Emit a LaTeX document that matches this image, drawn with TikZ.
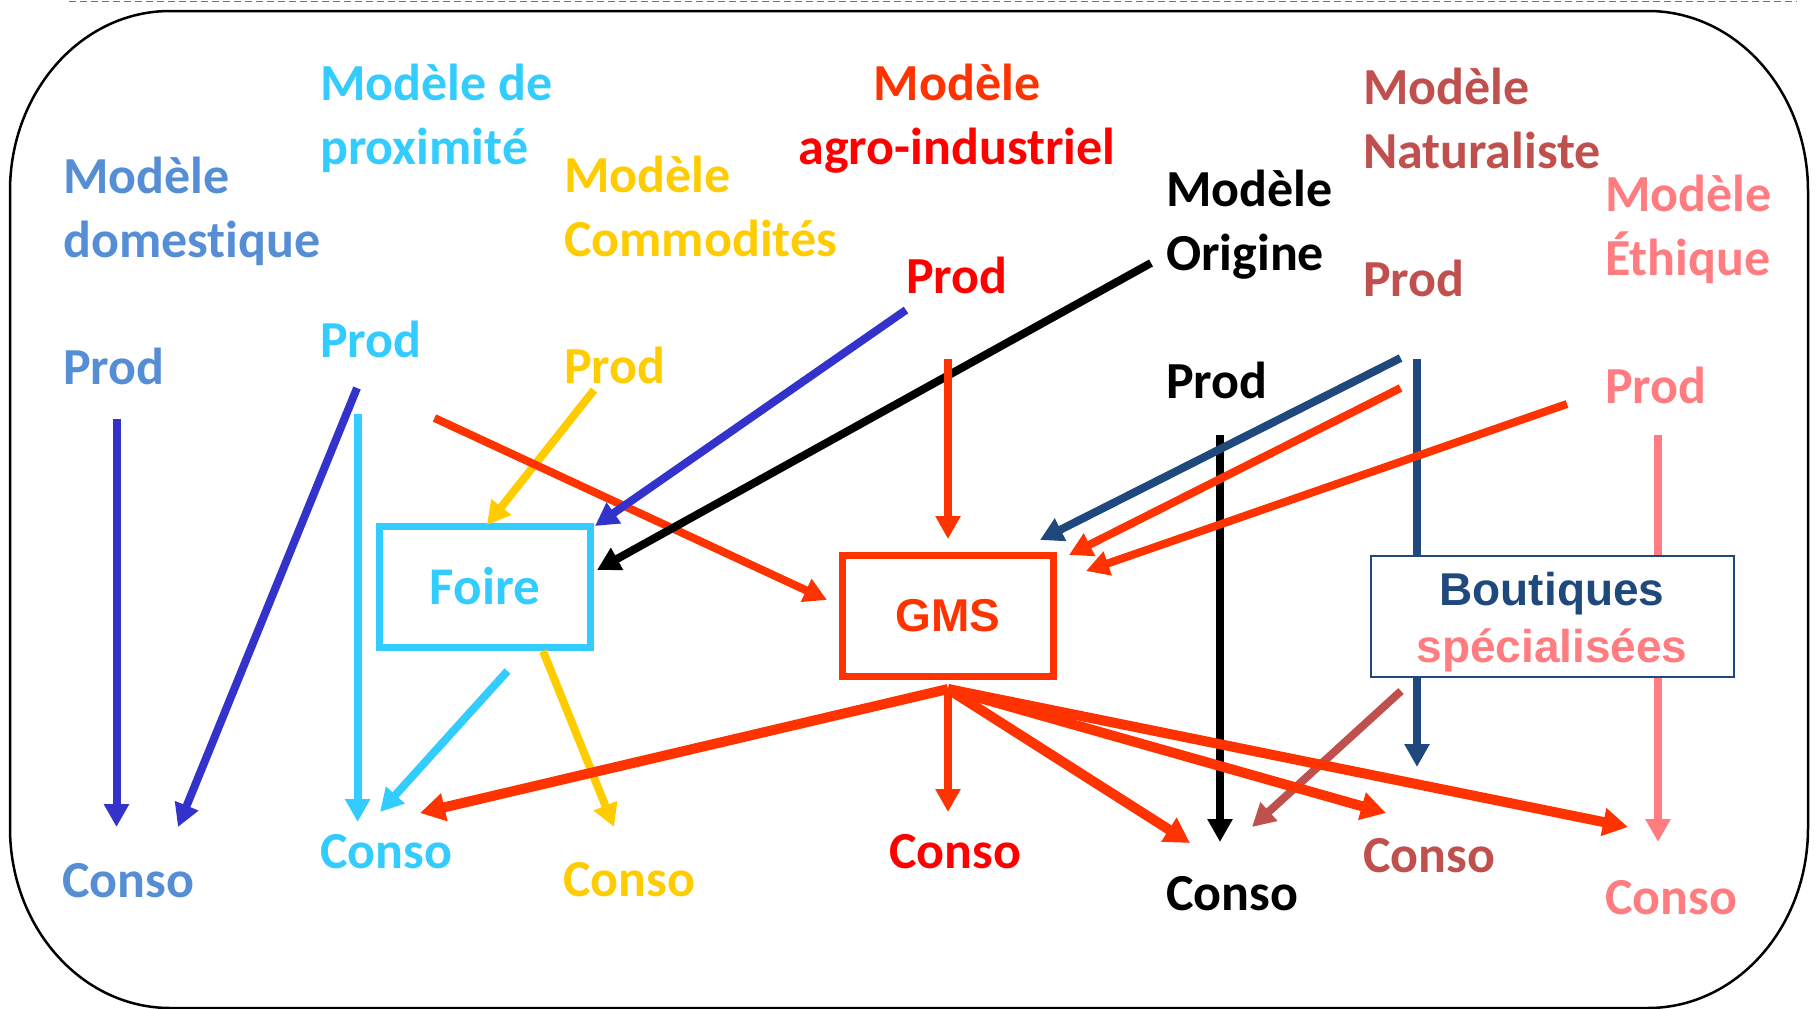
\documentclass[tikz,border=0pt]{standalone}
\usepackage{fontspec}
\setmainfont{Carlito}[Ligatures=NoCommon]
\newfontfamily\arialfont{Liberation Sans}
\usetikzlibrary{arrows.meta}
\definecolor{cdom}{HTML}{558ED5}
\definecolor{cprox}{HTML}{33CCFF}
\definecolor{ccomm}{HTML}{FFCC00}
\definecolor{corange}{HTML}{FF3300}
\definecolor{cred}{HTML}{FF0000}
\definecolor{cnat}{HTML}{C0504D}
\definecolor{ceth}{HTML}{FF7C80}
\definecolor{cnavy}{HTML}{1F497D}
\definecolor{cviolet}{HTML}{3333CC}
\begin{document}
\begin{tikzpicture}[x=1pt,y=-1pt,
  txt/.style={font=\bfseries\fontsize{52}{64}\selectfont, inner sep=0pt, anchor=base west, align=left},
  arr/.style={line width=8pt, -{Triangle[length=23pt,width=24pt]}},
  tarr/.style={line width=10pt, -{Triangle[length=25pt,width=27pt]}, draw=corange},
  boxstyle/.style={line width=7pt, minimum width=211pt, minimum height=121pt, inner sep=0pt, fill=white}]
\useasboundingbox (0,0) rectangle (1816,1009);
% frame
\draw[cnat, line width=1.5pt, dash pattern=on 7pt off 4pt] (69,1.5) -- (1797,1.5);
\draw[line width=2.5pt] (170,11) -- (1648,11)
  arc[start angle=90, end angle=0, x radius=160pt, y radius=180pt]
  -- (1808,828)
  arc[start angle=0, end angle=-90, x radius=160pt, y radius=180pt]
  -- (170,1008)
  arc[start angle=-90, end angle=-180, x radius=160pt, y radius=180pt]
  -- (10,191)
  arc[start angle=180, end angle=90, x radius=160pt, y radius=180pt] -- cycle;

% titles (base anchor = baseline of the last line)
\node[txt, text=cdom] (domM) at (63,257) {Modèle\\domestique};
\node[txt, text=cprox] (proxM) at (320,164) {Modèle de\\proximité};
\node[txt, text=ccomm] (commM) at (564,256) {Modèle\\Commodités};
\node[txt, anchor=base, align=center] (agroM) at (957,164) {\textcolor{corange}{Modèle}\\\textcolor{cred}{agro-industriel}};
\node[txt, text=black] (origM) at (1166,270) {Modèle\\Origine};
\node[txt, text=cnat] (natM) at (1363,168) {Modèle\\Naturaliste};
\node[txt, text=ceth] (ethM) at (1605,275) {Modèle\\Éthique};

% prods
\node[txt, text=cdom] (domP) at (63,384) {Prod};
\node[txt, text=cprox] (proxP) at (320,357) {Prod};
\node[txt, text=ccomm] (commP) at (564,383) {Prod};
\node[txt, text=cred] (agroP) at (906,293) {Prod};
\node[txt, text=black] (origP) at (1166,398) {Prod};
\node[txt, text=cnat] (natP) at (1363,296) {Prod};
\node[txt, text=ceth] (ethP) at (1605,403) {Prod};

% consos
\node[txt, text=cdom] (domC) at (62,897) {Conso};
\node[txt, text=cprox] (proxC) at (320,868) {Conso};
\node[txt, text=ccomm] (commC) at (563,896) {Conso};
\node[txt, text=cred] (agroC) at (889,868) {Conso};
\node[txt, text=black] (origC) at (1166,910) {Conso};
\node[txt, text=cnat] (natC) at (1363,872) {Conso};
\node[txt, text=ceth] (ethC) at (1605,914) {Conso};

% coordinates
\coordinate (d1s) at (116.5,419); \coordinate (d1e) at (116.5,827);
\coordinate (d2s) at (357,388);   \coordinate (d2e) at (178,827);
\coordinate (p1s) at (357.6,414); \coordinate (p1e) at (357.6,822);
\coordinate (p2s) at (507.5,671); \coordinate (p2e) at (380,812);
\coordinate (c1s) at (594,390);   \coordinate (c1e) at (487,525);
\coordinate (c2s) at (543,651);   \coordinate (c2e) at (614,827);
\coordinate (a1s) at (906,310);   \coordinate (a1e) at (595,526);
\coordinate (o1s) at (1151,263);  \coordinate (o1e) at (597,570);
\coordinate (p3s) at (434.5,418); \coordinate (p3e) at (827,600);
\coordinate (a2s) at (948,359);   \coordinate (a2e) at (948,539);
\coordinate (n1s) at (1400.6,358); \coordinate (n1e) at (1040,540);
\coordinate (n2s) at (1400.6,388); \coordinate (n2e) at (1069,555);
\coordinate (e1s) at (1567,404);  \coordinate (e1e) at (1086,571);
\coordinate (n3s) at (1417,359);  \coordinate (n3e) at (1417,767);
\coordinate (e2s) at (1658,435);  \coordinate (e2e) at (1658,842);
\coordinate (o2s) at (1220,435);  \coordinate (o2e) at (1220,842);
\coordinate (b1s) at (1401,691);  \coordinate (b1e) at (1252,827);
\coordinate (g0) at (948,689);
\coordinate (g1e) at (420,813);
\coordinate (g2e) at (948,812);
\coordinate (g3e) at (1190,843);
\coordinate (g4e) at (1386,813);
\coordinate (g5e) at (1628,827);

% arrows behind boxes
\draw[arr, draw=cnavy, fill=cnavy] (n3s) -- (n3e);
\draw[arr, draw=ceth, fill=ceth] (e2s) -- (e2e);

% boxes
\node[boxstyle, draw=cprox, text=cprox, font=\bfseries\fontsize{53}{64}\selectfont] (foire) at (485,586.5) {Foire};
\node[boxstyle, draw=corange, text=corange, font=\arialfont\bfseries\fontsize{46}{56}\selectfont] (gms) at (948,616) {GMS};
\node[draw=cnavy, line width=2.5pt, fill=white, minimum width=363pt, minimum height=121pt, inner sep=0pt] (bout) at (1552.5,616.5) {};
\node[font=\arialfont\bfseries\fontsize{46}{57}\selectfont, align=center, anchor=base, inner sep=0pt] (boutT) at (1552,662) {\textcolor{cnavy}{Boutiques}\\\textcolor{ceth}{spécialisées}};

% arrows
\draw[arr, draw=cviolet, fill=cviolet] (d1s) -- (d1e);
\draw[arr, draw=cviolet, fill=cviolet] (d2s) -- (d2e);
\draw[arr, draw=cprox, fill=cprox] (p1s) -- (p1e);
\draw[arr, draw=cprox, fill=cprox] (p2s) -- (p2e);
\draw[arr, draw=ccomm, fill=ccomm] (c1s) -- (c1e);
\draw[arr, draw=ccomm, fill=ccomm] (c2s) -- (c2e);
\draw[arr, draw=corange, fill=corange] (p3s) -- (p3e);
\draw[arr, draw=cviolet, fill=cviolet] (a1s) -- (a1e);
\draw[arr, draw=black, fill=black] (o1s) -- (o1e);
\draw[arr, draw=corange, fill=corange] (a2s) -- (a2e);
\draw[arr, draw=black, fill=black] (o2s) -- (o2e);
\draw[arr, draw=cnavy, fill=cnavy] (n1s) -- (n1e);
\draw[arr, draw=corange, fill=corange] (n2s) -- (n2e);
\draw[arr, draw=corange, fill=corange] (e1s) -- (e1e);
\draw[arr, draw=cnat, fill=cnat] (b1s) -- (b1e);
\draw[tarr, fill=corange] (g0) -- (g1e);
\draw[arr, draw=corange, fill=corange] (g0) -- (g2e);
\draw[tarr, fill=corange] (g0) -- (g3e);
\draw[tarr, fill=corange] (g0) -- (g4e);
\draw[tarr, fill=corange] (g0) -- (g5e);
\end{tikzpicture}
\end{document}
